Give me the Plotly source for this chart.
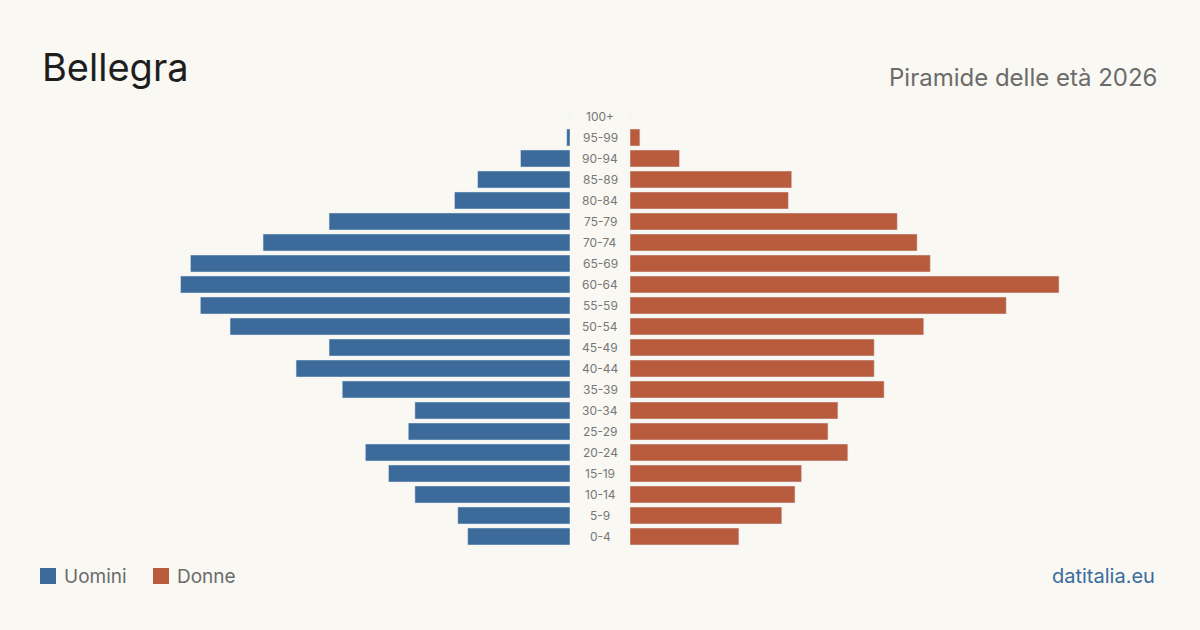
import plotly.graph_objects as go

# Data (top to bottom as shown)
age_groups = ["100+", "95-99", "90-94", "85-89", "80-84", "75-79", "70-74", "65-69",
              "60-64", "55-59", "50-54", "45-49", "40-44", "35-39", "30-34", "25-29",
              "20-24", "15-19", "10-14", "5-9", "0-4"]
uomini = [0, 1, 15, 28, 35, 73, 93, 115, 118, 112, 103, 73, 83, 69, 47, 49, 62, 55, 47, 34, 31]
donne = [0, 3, 15, 49, 48, 81, 87, 91, 130, 114, 89, 74, 74, 77, 63, 60, 66, 52, 50, 46, 33]

title = "Bellegra"
subtitle = "Piramide delle età 2026"
source = "datitalia.eu"

BLUE = "#3b6a9b"
ORANGE = "#b85c3d"
BG = "#f9f8f3"
FONT = "Inter"

W, H = 1200, 630
scale_max = 172.7  # units spanning 570 px

fig = go.Figure()
fig.add_trace(go.Bar(y=age_groups, x=uomini, orientation="h", marker_color=BLUE,
                     xaxis="x", yaxis="y", name="Uomini", hoverinfo="x+y"))
fig.add_trace(go.Bar(y=age_groups, x=donne, orientation="h", marker_color=ORANGE,
                     xaxis="x2", yaxis="y", name="Donne", hoverinfo="x+y"))

y_bottom_px, y_top_px = 547, 106
ydom = [(H - y_bottom_px) / H, (H - y_top_px) / H]

annotations = []
for a in age_groups:
    annotations.append(dict(x=0.5, xref="paper", y=a, yref="y", text=a, showarrow=False,
                            font=dict(family=FONT, size=12, color="#777777"),
                            xanchor="center", yanchor="middle"))

annotations += [
    dict(x=40 / W, y=1 - 67 / H, xref="paper", yref="paper", text=title, showarrow=False,
         xanchor="left", yanchor="middle", font=dict(family=FONT, size=38, color="#1e1e1e")),
    dict(x=1159 / W, y=1 - 77 / H, xref="paper", yref="paper", text=subtitle, showarrow=False,
         xanchor="right", yanchor="middle", font=dict(family=FONT, size=24, color="#6b6b6b")),
    dict(x=62 / W, y=1 - 576 / H, xref="paper", yref="paper", text="Uomini", showarrow=False,
         xanchor="left", yanchor="middle", font=dict(family=FONT, size=19, color="#6b6b6b")),
    dict(x=175 / W, y=1 - 576 / H, xref="paper", yref="paper", text="Donne", showarrow=False,
         xanchor="left", yanchor="middle", font=dict(family=FONT, size=19, color="#6b6b6b")),
    dict(x=1157 / W, y=1 - 576 / H, xref="paper", yref="paper", text=source, showarrow=False,
         xanchor="right", yanchor="middle", font=dict(family=FONT, size=20, color="#3a6a9e")),
]

shapes = [
    dict(type="rect", xref="paper", yref="paper", x0=40 / W, x1=56 / W,
         y0=1 - 584 / H, y1=1 - 568 / H, fillcolor=BLUE, line=dict(width=0)),
    dict(type="rect", xref="paper", yref="paper", x0=153 / W, x1=169 / W,
         y0=1 - 584 / H, y1=1 - 568 / H, fillcolor=ORANGE, line=dict(width=0)),
]

fig.update_layout(
    width=W, height=H,
    margin=dict(l=0, r=0, t=0, b=0),
    paper_bgcolor=BG, plot_bgcolor=BG,
    showlegend=False,
    bargap=0.19,
    xaxis=dict(domain=[0, 570 / W], range=[scale_max, 0], visible=False, fixedrange=True),
    xaxis2=dict(domain=[630 / W, 1], range=[0, scale_max], visible=False, fixedrange=True),
    yaxis=dict(domain=ydom, categoryorder="array", categoryarray=age_groups[::-1],
               range=[-0.5, len(age_groups) - 0.5], visible=False, fixedrange=True),
    annotations=annotations,
    shapes=shapes,
)

fig.write_html("out.html", config={"displayModeBar": False})
